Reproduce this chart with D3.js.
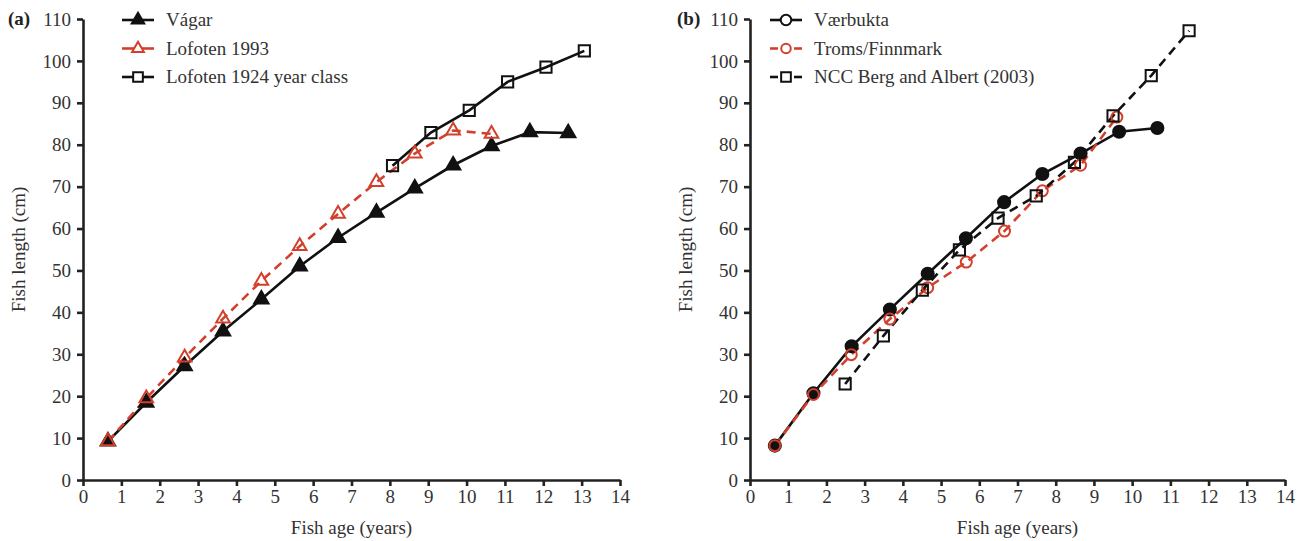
<!DOCTYPE html>
<html>
<head>
<meta charset="utf-8">
<script src="https://cdn.jsdelivr.net/npm/d3@7"></script>
<style>
  body { margin: 0; background: #fff; }
  svg { display: block; font-family: "Liberation Serif", "Times New Roman", serif; }
  .axis path, .axis line { stroke: #222; stroke-width: 2.6; }
  .axis text { font-size: 19px; fill: #333; font-family: "Liberation Serif", serif; }
  .title { font-size: 19px; fill: #333; }
  .legend text { font-size: 19px; fill: #333; }
</style>
</head>
<body>
<svg id="chart" width="1304" height="541"></svg>
<script>
// -------------------------
// Data
// -------------------------
const ticksX = d3.range(0, 15);
const ticksY = d3.range(0, 111, 10);

// panel (a)
const vagarAge = [0.65, 1.65, 2.65, 3.65, 4.65, 5.65, 6.65, 7.65, 8.65, 9.65, 10.65, 11.65, 12.65];
const vagarLen = [9.2, 18.5, 27.2, 35.5, 43.1, 51.0, 57.8, 63.8, 69.6, 75.1, 79.7, 83.0, 82.8];
const lof93Age = [0.65, 1.65, 2.65, 3.65, 4.65, 5.65, 6.65, 7.65, 8.65, 9.65, 10.65];
const lof93Len = [9.2, 19.5, 29.2, 38.5, 47.5, 55.8, 63.5, 71.1, 77.9, 83.4, 82.6];
const lof24Age = [8.07, 9.07, 10.07, 11.07, 12.07, 13.07];
const lof24Len = [75.0, 82.9, 88.2, 95.0, 98.5, 102.4];

// panel (b)
const vaerAge = [0.65, 1.66, 2.66, 3.66, 4.65, 5.65, 6.65, 7.65, 8.65, 9.66, 10.66];
const vaerLen = [8.2, 20.7, 31.9, 40.7, 49.2, 57.7, 66.3, 73.0, 77.9, 83.1, 84.0];
const tromsAge = [0.65, 1.66, 2.65, 3.66, 4.65, 5.66, 6.66, 7.65, 8.65, 9.6];
const tromsLen = [8.2, 20.4, 29.9, 38.4, 45.9, 52.0, 59.4, 69.0, 75.1, 86.6];
const nccAge = [2.49, 3.49, 4.51, 5.48, 6.49, 7.49, 8.49, 9.5, 10.5, 11.49];
const nccLen = [22.9, 34.4, 45.3, 54.9, 62.5, 67.8, 75.8, 86.9, 96.5, 107.2];

const RED = "#d2402d";
const BLACK = "#111";

const zip = (xs, ys) => xs.map((x, i) => ({x: x, y: ys[i]}));

const panels = [
    {
        label: "(a)", labelX: 8, x0: 83, x1: 620,
        series: [
            {name: "Vágar", data: zip(vagarAge, vagarLen), color: BLACK, dash: null,
             symbol: d3.symbolTriangle, size: 90, fill: BLACK, legendFill: BLACK},
            {name: "Lofoten 1993", data: zip(lof93Age, lof93Len), color: RED, dash: "9,6",
             symbol: d3.symbolTriangle, size: 80, fill: "none", legendFill: "#fff"},
            {name: "Lofoten 1924 year class", data: zip(lof24Age, lof24Len), color: BLACK, dash: null,
             symbol: d3.symbolSquare, size: 125, fill: "none", legendFill: "#fff"}
        ],
        legX: 122, legendStyle: "full"
    },
    {
        label: "(b)", labelX: 677, x0: 750, x1: 1285,
        series: [
            {name: "Værbukta", data: zip(vaerAge, vaerLen), color: BLACK, dash: null,
             symbol: d3.symbolCircle, size: 115, fill: BLACK, legendFill: "#fff"},
            {name: "Troms/Finnmark", data: zip(tromsAge, tromsLen), color: RED, dash: "9,6",
             symbol: d3.symbolCircle, size: 95, fill: "none", legendFill: "#fff"},
            {name: "NCC Berg and Albert (2003)", data: zip(nccAge, nccLen), color: BLACK, dash: "9,6",
             symbol: d3.symbolSquare, size: 125, fill: "none", legendFill: "#fff"}
        ],
        legX: 770, legendStyle: "short"
    }
];

const svg = d3.select("#chart");
const yTop = 19, yBot = 480;

panels.forEach(p => {
    const x = d3.scaleLinear().domain([0, 14]).range([p.x0, p.x1]);
    const y = d3.scaleLinear().domain([0, 110]).range([yBot, yTop]);
    const g = svg.append("g");

    g.append("g").attr("class", "axis")
        .attr("transform", `translate(0,${yBot})`)
        .call(d3.axisBottom(x).tickValues(ticksX).tickSize(6).tickSizeOuter(0).tickPadding(4));
    g.append("g").attr("class", "axis")
        .attr("transform", `translate(${p.x0},0)`)
        .call(d3.axisLeft(y).tickValues(ticksY).tickSize(6).tickSizeOuter(0).tickPadding(6));

    g.append("text").attr("class", "title")
        .attr("x", (p.x0 + p.x1) / 2).attr("y", 534)
        .attr("text-anchor", "middle").text("Fish age (years)");
    g.append("text").attr("class", "title")
        .attr("transform", `translate(${p.x0 - 58},${(yTop + yBot) / 2}) rotate(-90)`)
        .attr("text-anchor", "middle").text("Fish length (cm)");
    g.append("text")
        .attr("x", p.labelX).attr("y", 25)
        .attr("font-size", 19).attr("font-weight", "bold").attr("fill", "#222")
        .text(p.label);

    const line = d3.line().x(d => x(d.x)).y(d => y(d.y));

    p.series.forEach(s => {
        g.append("path")
            .datum(s.data)
            .attr("d", line)
            .attr("fill", "none")
            .attr("stroke", s.color)
            .attr("stroke-width", 2.6)
            .attr("stroke-dasharray", s.dash);
    });
    p.series.forEach(s => {
        g.selectAll(null).data(s.data).enter().append("path")
            .attr("transform", d => `translate(${x(d.x)},${y(d.y)})`)
            .attr("d", d3.symbol(s.symbol, s.size))
            .attr("fill", s.fill)
            .attr("stroke", s.color)
            .attr("stroke-width", 2);
    });

    // legend
    const leg = g.append("g").attr("class", "legend");
    p.series.forEach((s, i) => {
        const ly = 20 + i * 28.5;
        const lx = p.legX, mid = lx + 16;
        if (p.legendStyle === "short" && s.dash) {
            [[lx, lx + 8], [lx + 24, lx + 32]].forEach(seg => {
                leg.append("line").attr("x1", seg[0]).attr("x2", seg[1]).attr("y1", ly).attr("y2", ly)
                    .attr("stroke", s.color).attr("stroke-width", 2.6);
            });
        } else {
            leg.append("line").attr("x1", lx).attr("x2", lx + 32).attr("y1", ly).attr("y2", ly)
                .attr("stroke", s.color).attr("stroke-width", 2.6);
        }
        leg.append("path")
            .attr("transform", `translate(${mid},${ly})`)
            .attr("d", d3.symbol(s.symbol, s.size * 0.75))
            .attr("fill", s.legendFill)
            .attr("stroke", s.color)
            .attr("stroke-width", 2);
        leg.append("text").attr("x", lx + 44).attr("y", ly + 6).text(s.name);
    });
});
</script>
</body>
</html>
